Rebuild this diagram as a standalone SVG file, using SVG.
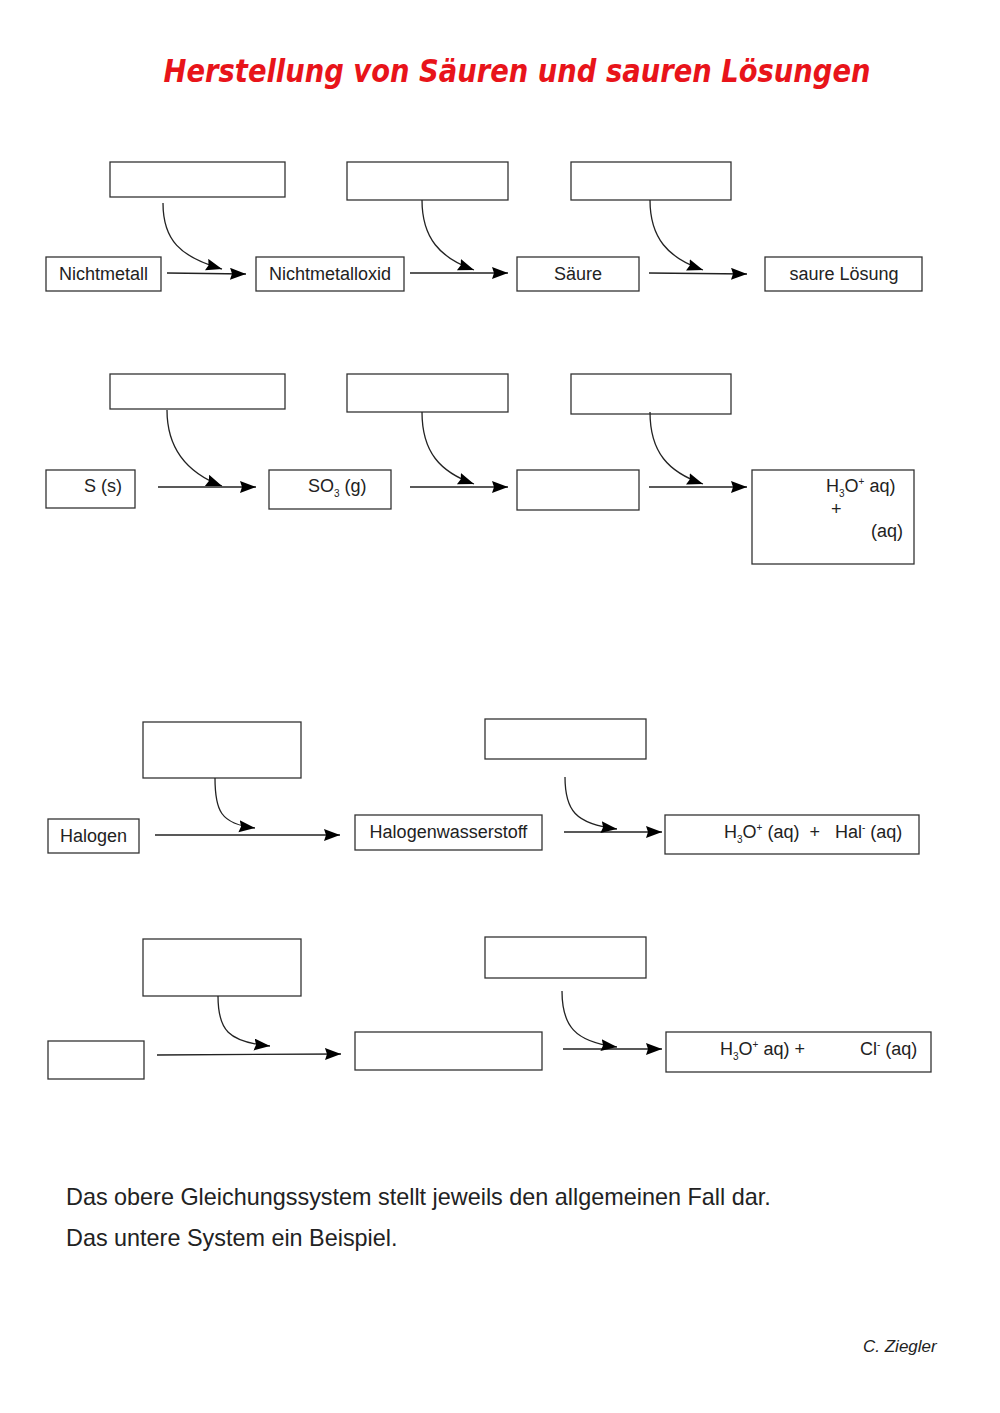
<svg xmlns="http://www.w3.org/2000/svg" width="1000" height="1413" viewBox="0 0 1000 1413">
<defs>
<marker id="ah" markerUnits="userSpaceOnUse" markerWidth="18" markerHeight="14" refX="16" refY="6" orient="auto">
<path d="M0,0 L16,6 L0,12 L2,6 Z" fill="#000"/>
</marker>
</defs>
<style>
.box{fill:#fff;stroke:#333;stroke-width:1.3}
.t{font-family:"Liberation Sans",Arial,sans-serif;font-size:18px;fill:#222}
.s{font-size:10px}
.c{fill:none;stroke:#222;stroke-width:1.3;marker-end:url(#ah)}
.ft{font-family:"Liberation Sans",Arial,sans-serif;font-size:23.4px;fill:#222}
</style>
<rect width="1000" height="1413" fill="#fff"/>
<text x="517" y="82" text-anchor="middle" textLength="707" lengthAdjust="spacingAndGlyphs" font-family="'Comic Sans MS','DejaVu Sans',sans-serif" font-size="32" font-weight="bold" font-style="italic" fill="#e8141a">Herstellung von Säuren und sauren Lösungen</text>

<!-- Row 1 -->
<g id="r1-top1"><rect class="box" x="110" y="162" width="175" height="35"/></g>
<g id="r1-top2"><rect class="box" x="347" y="162" width="161" height="38"/></g>
<g id="r1-top3"><rect class="box" x="571" y="162" width="160" height="38"/></g>
<g id="r1-n1"><rect class="box" x="46" y="257" width="115" height="34"/><text class="t" x="103.5" y="280" text-anchor="middle">Nichtmetall</text></g>
<g id="r1-n2"><rect class="box" x="256" y="257" width="148" height="34"/><text class="t" x="330" y="280" text-anchor="middle">Nichtmetalloxid</text></g>
<g id="r1-n3"><rect class="box" x="517" y="257" width="122" height="34"/><text class="t" x="578" y="280" text-anchor="middle">Säure</text></g>
<g id="r1-n4"><rect class="box" x="765" y="257" width="157" height="34"/><text class="t" x="844" y="280" text-anchor="middle">saure Lösung</text></g>

<!-- Row 2 -->
<g id="r2-top1"><rect class="box" x="110" y="374" width="175" height="35"/></g>
<g id="r2-top2"><rect class="box" x="347" y="374" width="161" height="38"/></g>
<g id="r2-top3"><rect class="box" x="571" y="374" width="160" height="40"/></g>
<g id="r2-n1"><rect class="box" x="46" y="470" width="89" height="38"/><text class="t" x="84" y="492">S (s)</text></g>
<g id="r2-n2"><rect class="box" x="269" y="470" width="122" height="39"/><text class="t" x="308" y="492">SO<tspan class="s" dy="5">3</tspan><tspan dy="-5"> (g)</tspan></text></g>
<g id="r2-n3"><rect class="box" x="517" y="470" width="122" height="40"/></g>
<g id="r2-n4"><rect class="box" x="752" y="470" width="162" height="94"/>
<text class="t" x="826" y="492">H<tspan class="s" dy="5">3</tspan><tspan dy="-5">O</tspan><tspan class="s" dy="-7">+</tspan><tspan dy="7"> aq)</tspan></text>
<text class="t" x="831" y="515">+</text>
<text class="t" x="871" y="537">(aq)</text></g>

<!-- Row 3 -->
<g id="r3-top1"><rect class="box" x="143" y="722" width="158" height="56"/></g>
<g id="r3-top2"><rect class="box" x="485" y="719" width="161" height="40"/></g>
<g id="r3-n1"><rect class="box" x="48" y="819" width="91" height="34"/><text class="t" x="93.5" y="842" text-anchor="middle">Halogen</text></g>
<g id="r3-n2"><rect class="box" x="355" y="815" width="187" height="35"/><text class="t" x="448.5" y="838" text-anchor="middle">Halogenwasserstoff</text></g>
<g id="r3-n3"><rect class="box" x="665" y="815" width="254" height="39"/>
<text class="t" x="724" y="838" xml:space="preserve">H<tspan class="s" dy="5">3</tspan><tspan dy="-5">O</tspan><tspan class="s" dy="-7">+</tspan><tspan dy="7"> (aq)  +   Hal</tspan><tspan class="s" dy="-7">-</tspan><tspan dy="7"> (aq)</tspan></text></g>

<!-- Row 4 -->
<g id="r4-top1"><rect class="box" x="143" y="939" width="158" height="57"/></g>
<g id="r4-top2"><rect class="box" x="485" y="937" width="161" height="41"/></g>
<g id="r4-n1"><rect class="box" x="48" y="1041" width="96" height="38"/></g>
<g id="r4-n2"><rect class="box" x="355" y="1032" width="187" height="38"/></g>
<g id="r4-n3"><rect class="box" x="666" y="1032" width="265" height="40"/>
<text class="t" x="720" y="1055">H<tspan class="s" dy="5">3</tspan><tspan dy="-5">O</tspan><tspan class="s" dy="-7">+</tspan><tspan dy="7"> aq) +</tspan></text>
<text class="t" x="860" y="1055">Cl<tspan class="s" dy="-7">-</tspan><tspan dy="7"> (aq)</tspan></text></g>

<g id="connectors">
<path class="c" d="M167,273 L246,274"/>
<path class="c" d="M163,203 C163,240 180,257 222,269"/>
<path class="c" d="M410,273 L508,273"/>
<path class="c" d="M422,200 C422,238 440,258 474,270"/>
<path class="c" d="M649,273 L747,274"/>
<path class="c" d="M650,200 C650,238 668,258 703,270"/>

<path class="c" d="M158,487 L256,487"/>
<path class="c" d="M167,410 C167,452 190,474 222,486"/>
<path class="c" d="M410,487 L508,487"/>
<path class="c" d="M422,412 C422,452 440,472 474,484"/>
<path class="c" d="M649,487 L747,487"/>
<path class="c" d="M650,412 C650,452 668,472 703,484"/>

<path class="c" d="M155,835 L340,835"/>
<path class="c" d="M215,778 C215,810 220,824 255,828"/>
<path class="c" d="M564,832 L662,832"/>
<path class="c" d="M565,777 C565,810 575,824 617,829"/>

<path class="c" d="M157,1055 L341,1054"/>
<path class="c" d="M218,996 C218,1030 228,1042 270,1046"/>
<path class="c" d="M563,1049 L662,1049"/>
<path class="c" d="M562,991 C562,1025 574,1042 617,1047"/>
</g>

<text class="ft" x="66" y="1205">Das obere Gleichungssystem stellt jeweils den allgemeinen Fall dar.</text>
<text class="ft" x="66" y="1246">Das untere System ein Beispiel.</text>
<text x="863" y="1352" font-family="'Liberation Sans',Arial,sans-serif" font-size="17" font-style="italic" fill="#222">C. Ziegler</text>
</svg>
